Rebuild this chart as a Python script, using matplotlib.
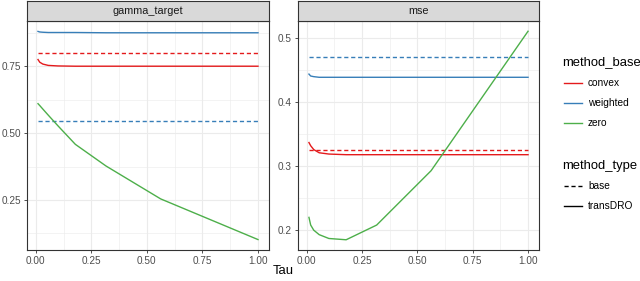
import matplotlib
matplotlib.use("Agg")
import matplotlib.pyplot as plt
from matplotlib.lines import Line2D

plt.rcParams['font.family'] = ['Liberation Sans', 'DejaVu Sans']

# Tau grid (log spaced)
tau = [0.01, 0.0178, 0.0316, 0.0562, 0.1, 0.178, 0.316, 0.562, 1.0]

# gamma_target panel
gamma_convex_trans = [0.775, 0.765, 0.758, 0.753, 0.751, 0.750, 0.750, 0.750, 0.750]
gamma_weighted_trans = [0.880, 0.878, 0.877, 0.876, 0.876, 0.876, 0.875, 0.875, 0.875]
gamma_zero_trans = [0.610, 0.603, 0.590, 0.567, 0.527, 0.458, 0.377, 0.254, 0.102]
gamma_convex_base = 0.800
gamma_weighted_base = 0.544

# mse panel
mse_convex_trans = [0.337, 0.332, 0.326, 0.321, 0.319, 0.318, 0.318, 0.318, 0.318]
mse_weighted_trans = [0.444, 0.441, 0.440, 0.439, 0.439, 0.439, 0.439, 0.439, 0.439]
mse_zero_trans = [0.220, 0.208, 0.200, 0.193, 0.187, 0.185, 0.208, 0.293, 0.511]
mse_convex_base = 0.326
mse_weighted_base = 0.471

colors = {"convex": "#E41A1C", "weighted": "#377EB8", "zero": "#4DAF4A"}
DASH = (0, (3, 2))

W, H = 640, 281
fig = plt.figure(figsize=(W / 100, H / 100), dpi=100)

def px_axes(x0, y0, x1, y1):
    # pixel coords measured from top-left
    return fig.add_axes([x0 / W, 1 - y1 / H, (x1 - x0) / W, (y1 - y0) / H])

def style_panel(ax, title, x0, x1):
    for s in ax.spines.values():
        s.set_color("#333333")
        s.set_linewidth(0.8)
    ax.set_xticks([0, 0.25, 0.5, 0.75, 1.0])
    ax.set_xticklabels(["0.00", "0.25", "0.50", "0.75", "1.00"])
    ax.set_xticks([0.125, 0.375, 0.625, 0.875], minor=True)
    ax.grid(True, which="major", color="#EBEBEB", linewidth=0.8)
    ax.grid(True, which="minor", color="#EBEBEB", linewidth=0.4)
    ax.set_axisbelow(True)
    ax.tick_params(which="major", length=2.5, width=0.6, color="#333333",
                   labelsize=7.2, labelcolor="#4D4D4D", pad=2)
    ax.tick_params(which="minor", length=0)
    strip = px_axes(x0, 1, x1, 21)
    strip.set_facecolor("#D9D9D9")
    strip.set_xticks([])
    strip.set_yticks([])
    for s in strip.spines.values():
        s.set_color("#333333")
        s.set_linewidth(0.8)
    strip.text(0.5, 0.5, title, ha="center", va="center", fontsize=7.8,
               color="#1A1A1A", transform=strip.transAxes)

def draw(ax, convex, weighted, zero, convex_base, weighted_base):
    lw = 1.0
    ax.plot(tau, [convex_base] * len(tau), color=colors["convex"], lw=lw, ls=DASH)
    ax.plot(tau, [weighted_base] * len(tau), color=colors["weighted"], lw=lw, ls=DASH)
    ax.plot(tau, convex, color=colors["convex"], lw=lw)
    ax.plot(tau, weighted, color=colors["weighted"], lw=lw)
    ax.plot(tau, zero, color=colors["zero"], lw=lw)

ax1 = px_axes(27, 21, 269, 250)
draw(ax1, gamma_convex_trans, gamma_weighted_trans, gamma_zero_trans,
     gamma_convex_base, gamma_weighted_base)
style_panel(ax1, "gamma_target", 27, 269)
ax1.set_yticks([0.25, 0.5, 0.75])
ax1.set_yticklabels(["0.25", "0.50", "0.75"])
ax1.set_yticks([0.125, 0.375, 0.625, 0.875], minor=True)
ax1.set_ylim(0.063, 0.919)

ax2 = px_axes(298, 21, 539, 250)
draw(ax2, mse_convex_trans, mse_weighted_trans, mse_zero_trans,
     mse_convex_base, mse_weighted_base)
style_panel(ax2, "mse", 298, 539)
ax2.set_yticks([0.2, 0.3, 0.4, 0.5])
ax2.set_yticklabels(["0.2", "0.3", "0.4", "0.5"])
ax2.set_yticks([0.25, 0.35, 0.45], minor=True)
ax2.set_ylim(0.169, 0.527)

for ax in (ax1, ax2):
    ax.set_xlim(-0.0395, 1.0495)

fig.text(283 / W, 1 - 271 / H, "Tau", ha="center", va="center", fontsize=9.4, color="black")

# legend
fig.text(562 / W, 1 - 62 / H, "method_base", ha="left", va="center", fontsize=9.4)
for i, name in enumerate(["convex", "weighted", "zero"]):
    y = 1 - (83 + 20 * i) / H
    fig.add_artist(Line2D([564 / W, 582 / W], [y, y], color=colors[name], lw=1.0))
    fig.text(588 / W, y, name, ha="left", va="center", fontsize=7.3)

fig.text(562 / W, 1 - 166 / H, "method_type", ha="left", va="center", fontsize=9.4)
for i, (name, ls) in enumerate([("base", DASH), ("transDRO", "-")]):
    y = 1 - (186 + 20 * i) / H
    fig.add_artist(Line2D([564 / W, 582 / W], [y, y], color="black", lw=1.0, ls=ls))
    fig.text(588 / W, y, name, ha="left", va="center", fontsize=7.3)

fig.savefig("out.png", dpi=100)
